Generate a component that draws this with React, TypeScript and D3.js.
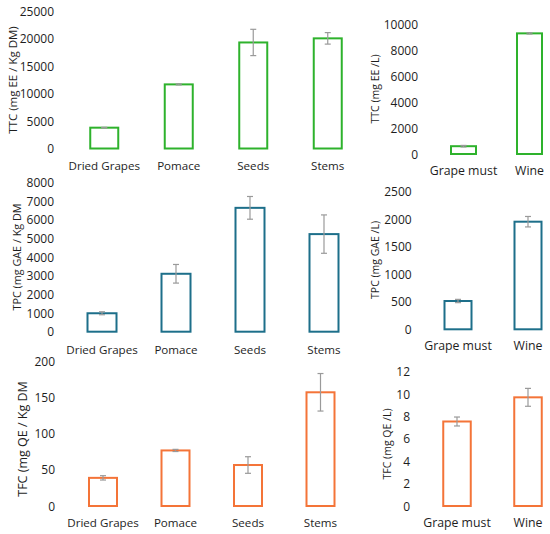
import React from 'react';
import * as d3 from 'd3';

// Solid samples (per kg dry matter)
const solidCategories = ['Dried Grapes', 'Pomace', 'Seeds', 'Stems'];
const ttcSolid = [3800, 11700, 19350, 20100];
const ttcSolidErr = [60, 100, 2400, 1050];
const tpcSolid = [990, 3110, 6650, 5240];
const tpcSolidErr = [80, 500, 610, 1030];
const tfcSolid = [39, 77, 56.8, 157.6];
const tfcSolidErr = [3, 1.5, 11.5, 26];

// Liquid samples (per litre)
const liquidCategories = ['Grape must', 'Wine'];
const ttcLiquid = [600, 9280];
const ttcLiquidErr = [60, 50];
const tpcLiquid = [514, 1955];
const tpcLiquidErr = [30, 95];
const tfcLiquid = [7.55, 9.71];
const tfcLiquidErr = [0.4, 0.8];

const GREEN = '#2eb22c';
const TEAL = '#1d6f8a';
const ORANGE = '#f47438';
const FONT = "'Open Sans', 'Liberation Sans', sans-serif";

interface PanelDef {
  categories: string[];
  values: number[];
  errors: number[];
  max: number;
  step: number;
  color: string;
  label: string;
  xRange: [number, number];
  yRange: [number, number];
  barWidth: number;
  tickX: number;
  labelX: number;
  labelY: number;
  labelSize: number;
  catY: number;
  catSize: number;
}

const panels: PanelDef[] = [
  {
    categories: solidCategories, values: ttcSolid, errors: ttcSolidErr,
    max: 25000, step: 5000, color: GREEN, label: 'TTC (mg EE / Kg DM)',
    xRange: [67, 365], yRange: [148.5, 11.5], barWidth: 28,
    tickX: 54, labelX: 12, labelY: 80, labelSize: 11.5, catY: 165, catSize: 11.6,
  },
  {
    categories: liquidCategories, values: ttcLiquid, errors: ttcLiquidErr,
    max: 10000, step: 2000, color: GREEN, label: 'TTC (mg EE /L)',
    xRange: [430.5, 562.5], yRange: [154, 24], barWidth: 25,
    tickX: 418, labelX: 375, labelY: 89, labelSize: 10.5, catY: 170, catSize: 12.3,
  },
  {
    categories: solidCategories, values: tpcSolid, errors: tpcSolidErr,
    max: 8000, step: 1000, color: TEAL, label: 'TPC (mg GAE / Kg DM',
    xRange: [65, 361], yRange: [331.7, 182.7], barWidth: 29,
    tickX: 54, labelX: 16, labelY: 257, labelSize: 10.8, catY: 349, catSize: 11.6,
  },
  {
    categories: liquidCategories, values: tpcLiquid, errors: tpcLiquidErr,
    max: 2500, step: 500, color: TEAL, label: 'TPC (mg GAE /L)',
    xRange: [423, 563], yRange: [329.3, 191.7], barWidth: 27,
    tickX: 411.7, labelX: 375, labelY: 260, labelSize: 10.5, catY: 345, catSize: 12.3,
  },
  {
    categories: solidCategories, values: tfcSolid, errors: tfcSolidErr,
    max: 200, step: 50, color: ORANGE, label: 'TFC (mg QE / Kg DM',
    xRange: [66.75, 356.75], yRange: [506, 361.7], barWidth: 28,
    tickX: 55, labelX: 22, labelY: 439, labelSize: 12.5, catY: 522, catSize: 11.6,
  },
  {
    categories: liquidCategories, values: tfcLiquid, errors: tfcLiquidErr,
    max: 12, step: 2, color: ORANGE, label: 'TFC (mg QE /L)',
    xRange: [421.5, 563.5], yRange: [506, 371.7], barWidth: 27.5,
    tickX: 410, labelX: 387, labelY: 444, labelSize: 10.5, catY: 522, catSize: 12.3,
  },
];

const Panel: React.FC<{ p: PanelDef }> = ({ p }) => {
  const x = d3.scaleBand<string>().domain(p.categories).range(p.xRange).padding(0);
  const y = d3.scaleLinear().domain([0, p.max]).range(p.yRange);
  const ticks = d3.range(0, p.max + p.step / 2, p.step);
  const cap = 3;

  return (
    <g>
      {ticks.map(t => (
        <text key={t} x={p.tickX} y={y(t)} textAnchor="end" dominantBaseline="central"
          fontSize={12} fill="#1e1e1e">{t}</text>
      ))}
      <text transform={`translate(${p.labelX},${p.labelY}) rotate(-90)`} textAnchor="middle"
        dominantBaseline="central" fontSize={p.labelSize} fill="#1e1e1e">{p.label}</text>
      {p.categories.map((c, i) => {
        const cx = (x(c) ?? 0) + x.bandwidth() / 2;
        const v = p.values[i];
        const e = p.errors[i];
        return (
          <g key={c}>
            <rect x={cx - p.barWidth / 2} y={y(v)} width={p.barWidth} height={y(0) - y(v)}
              fill="white" stroke={p.color} strokeWidth={2} />
            <line x1={cx} x2={cx} y1={y(v + e)} y2={y(v - e)} stroke="#9a9a9a" strokeWidth={1.2} />
            <line x1={cx - cap} x2={cx + cap} y1={y(v + e)} y2={y(v + e)} stroke="#9a9a9a" strokeWidth={1.2} />
            <line x1={cx - cap} x2={cx + cap} y1={y(v - e)} y2={y(v - e)} stroke="#9a9a9a" strokeWidth={1.2} />
            <text x={cx} y={p.catY} textAnchor="middle" dominantBaseline="central"
              fontSize={p.catSize} fill="#1e1e1e">{c}</text>
          </g>
        );
      })}
    </g>
  );
};

export default function App() {
  return (
    <svg width={550} height={534} viewBox="0 0 550 534"
      style={{ position: 'absolute', left: 0, top: 0, background: 'white', fontFamily: FONT }}>
      {panels.map((p, i) => <Panel key={i} p={p} />)}
    </svg>
  );
}
